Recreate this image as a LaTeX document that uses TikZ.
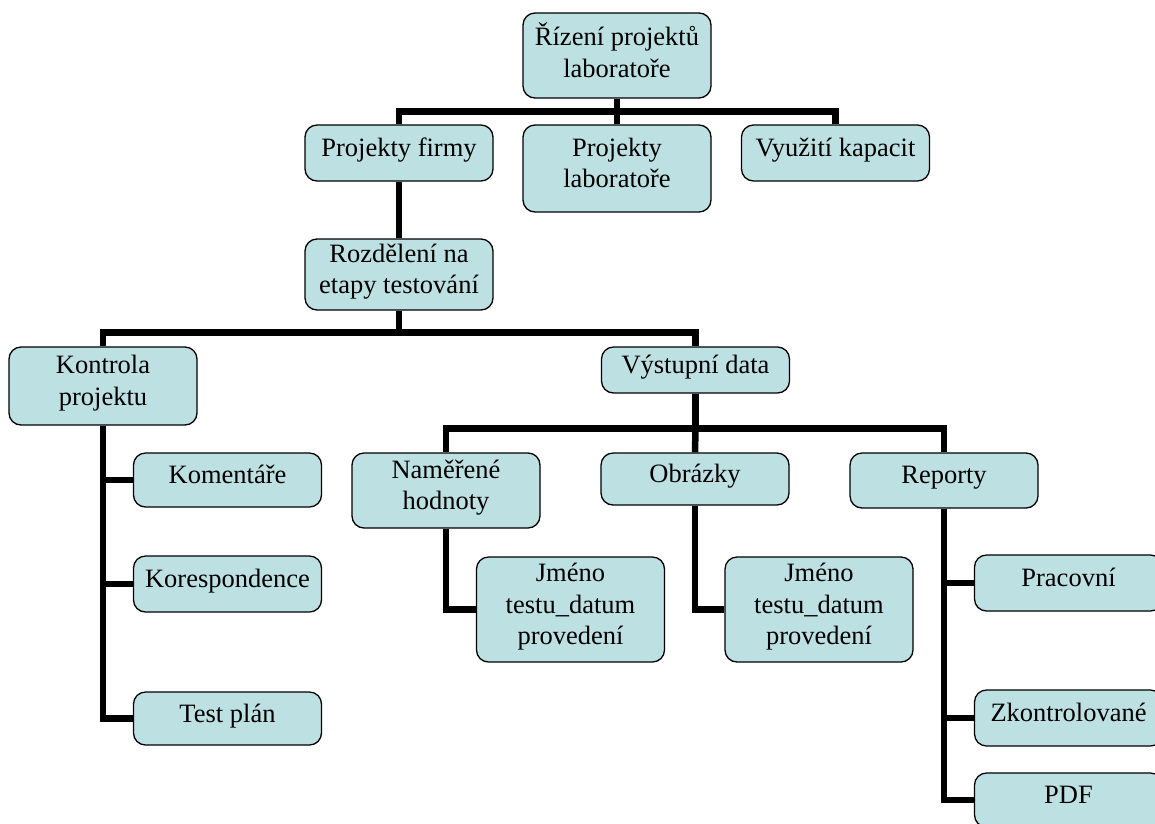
\documentclass[tikz,border=0pt]{standalone}
\usepackage{fontspec}
\setmainfont{Liberation Serif}
\usetikzlibrary{calc}
\definecolor{boxfill}{RGB}{189,224,227}
\begin{document}
\begin{tikzpicture}[x=1pt, y=-1pt]
       \tikzset{box/.style={draw=black, line width=1.3pt, fill=boxfill, rounded corners=12pt,
                 minimum width=188pt, align=center, inner sep=2pt, text depth=11pt,
                 font=\fontsize{26.5}{31.5}\selectfont},
                link/.style={line width=6.5pt, line join=miter}}
       \useasboundingbox (0,0) rectangle (1155,823);
       \node[box, minimum height=85pt] (root) at (617,55.5) {Řízení projektů\\laboratoře};
       \node[box, minimum height=56pt] (pf) at (399,153) {Projekty firmy};
       \node[box, minimum height=87pt] (pl) at (617,168.5) {Projekty\\laboratoře};
       \node[box, minimum height=56pt] (vk) at (835.5,153) {Využití kapacit};
       \node[box, minimum height=71pt] (rz) at (399,274.5) {Rozdělení na\\etapy testování};
       \node[box, minimum height=78pt] (kp) at (103,386) {Kontrola\\projektu};
       \node[box, minimum height=46pt] (vd) at (695.5,370) {Výstupní data};
       \node[box, minimum height=54pt] (kom) at (227.5,480) {Komentáře};
       \node[box, minimum height=56pt] (kor) at (227.5,584) {Korespondence};
       \node[box, minimum height=53pt] (tp) at (227.5,718.5) {Test plán};
       \node[box, minimum height=75pt] (nh) at (446,490.5) {Naměřené\\hodnoty};
       \node[box, minimum height=52pt] (ob) at (695,479) {Obrázky};
       \node[box, minimum height=55pt] (rp) at (944,480.5) {Reporty};
       \node[box, minimum height=105pt] (j1) at (570.5,609.5) {Jméno\\testu\_datum\\provedení};
       \node[box, minimum height=105pt] (j2) at (819,609.5) {Jméno\\testu\_datum\\provedení};
       \node[box, minimum height=56pt] (pr) at (1068.5,583) {Pracovní};
       \node[box, minimum height=56pt] (zk) at (1068.5,718) {Zkontrolované};
       \node[box, minimum height=54pt] (pdf) at (1068.5,800) {PDF};
       \coordinate (b1) at ($(root.south)!.5!(pl.north)$);
       \coordinate (b2) at ($(rz.south)+(0,22)$);
       \coordinate (b3) at ($(vd.south)+(0,35)$);
       \draw[link] (root.south) -- (pl.north);
       \draw[link] (pf.north) |- (b1) -| (vk.north);
       \draw[link] (pf.south) -- (rz.north);
       \draw[link] (rz.south) -- (b2);
       \draw[link] (kp.north) |- (b2) -| (vd.north);
       \draw[link] (vd.south) -- (b3);
       \draw[link] (nh.north) |- (b3) -| (rp.north);
       \draw[link] (b3) -- (ob.north);
       \draw[link] (kp.south) |- (kom.west);
       \draw[link] (kp.south) |- (kor.west);
       \draw[link] (kp.south) |- (tp.west);
       \draw[link] (nh.south) |- (j1.west);
       \draw[link] (ob.south) |- (j2.west);
       \draw[link] (rp.south) |- (pr.west);
       \draw[link] (rp.south) |- (zk.west);
       \draw[link] (rp.south) |- (pdf.west);
\end{tikzpicture}
\end{document}
